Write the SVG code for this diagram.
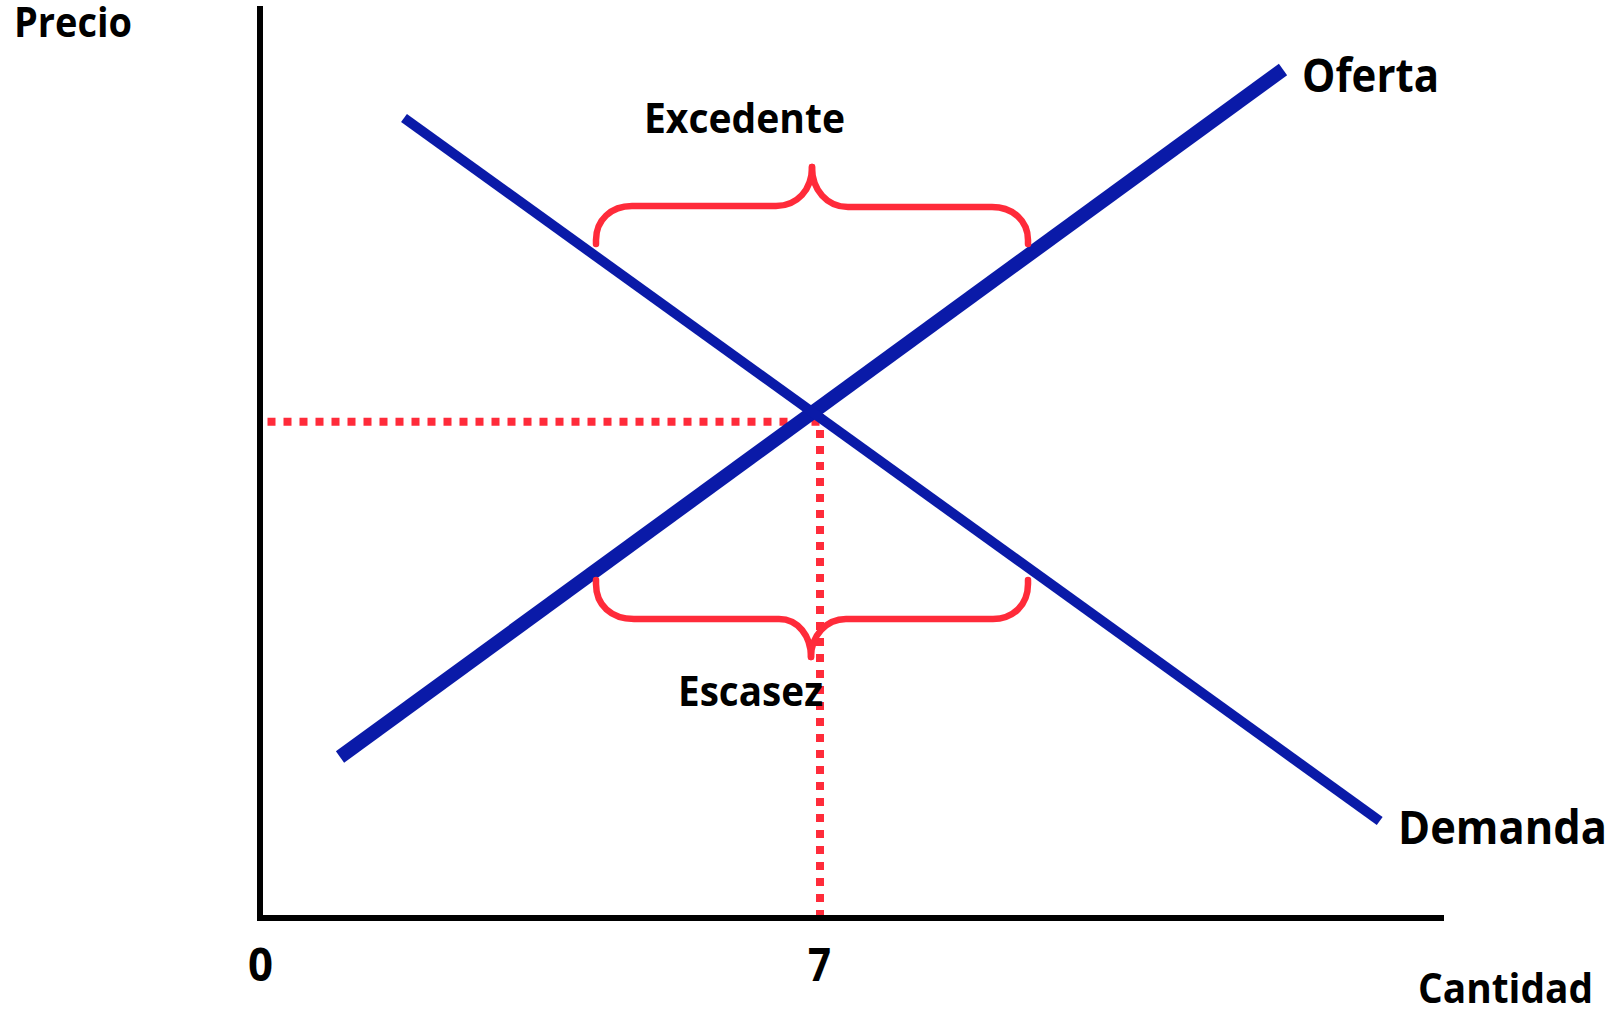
<svg xmlns="http://www.w3.org/2000/svg" width="1623" height="1016" viewBox="0 0 1623 1016">
  <style>
    .lbl { font-family: "Open Sans", "Liberation Sans", sans-serif; font-weight: 700; fill: #000; }
    .axis { stroke: #000; stroke-width: 6; fill: none; }
    .dot { stroke: #FF2B3A; stroke-width: 8; stroke-dasharray: 8 8; fill: none; }
    .brace { stroke: #FF2B3A; stroke-width: 6.5; fill: none; stroke-linecap: round; stroke-linejoin: round; }
    .curve { stroke: #0A1AA8; fill: none; stroke-linecap: butt; }
  </style>
  <rect width="1623" height="1016" fill="#fff"/>
  <g id="axes">
    <line class="axis" x1="260" y1="6" x2="260" y2="921"/>
    <line class="axis" x1="257" y1="918" x2="1444" y2="918"/>
  </g>
  <g id="connectors">
    <line class="dot" x1="267.5" y1="421.7" x2="820" y2="421.7"/>
    <line class="dot" x1="820" y1="414" x2="820" y2="915"/>
  </g>
  <g id="oferta-line">
    <line class="curve" stroke-width="14" x1="340" y1="757" x2="1283" y2="69.5"/>
  </g>
  <g id="demanda-line">
    <line class="curve" stroke-width="10" x1="404" y1="118" x2="1379.7" y2="821"/>
  </g>
  <g id="excedente-brace">
    <path class="brace" d="M596,244 L596,240 C596,220 611,206 632,206 L776,206 C797,206 812,190 812,167"/>
    <path class="brace" d="M812,167 C812,190 827,207 848,207 L992,207 C1013,207 1028,221 1028,240 L1028,244"/>
  </g>
  <g id="escasez-brace">
    <path class="brace" d="M596,580 L596,584 C596,605 611,619 634,619 L779,619 C798,619 811,636 811,657"/>
    <path class="brace" d="M811,657 C811,636 826,619 846,619 L993,619 C1013,619 1028,605 1028,584 L1028,580"/>
  </g>
  <g id="labels">
    <text id="precio" class="lbl" x="14" y="36.7" font-size="42" textLength="118" lengthAdjust="spacingAndGlyphs">Precio</text>
    <text id="excedente" class="lbl" x="644" y="133.3" font-size="41" textLength="201" lengthAdjust="spacingAndGlyphs">Excedente</text>
    <text id="oferta" class="lbl" x="1302" y="92" font-size="47" textLength="137" lengthAdjust="spacingAndGlyphs">Oferta</text>
    <text id="demanda" class="lbl" x="1398" y="843.5" font-size="47" textLength="209" lengthAdjust="spacingAndGlyphs">Demanda</text>
    <text id="escasez" class="lbl" x="678" y="705.7" font-size="42" textLength="145" lengthAdjust="spacingAndGlyphs">Escasez</text>
    <text id="cantidad" class="lbl" x="1418" y="1003.3" font-size="42" textLength="175" lengthAdjust="spacingAndGlyphs">Cantidad</text>
    <text id="zero" class="lbl" x="248" y="981" font-size="47" textLength="25" lengthAdjust="spacingAndGlyphs">0</text>
    <text id="seven" class="lbl" x="808" y="981" font-size="47" textLength="23" lengthAdjust="spacingAndGlyphs">7</text>
  </g>
</svg>
